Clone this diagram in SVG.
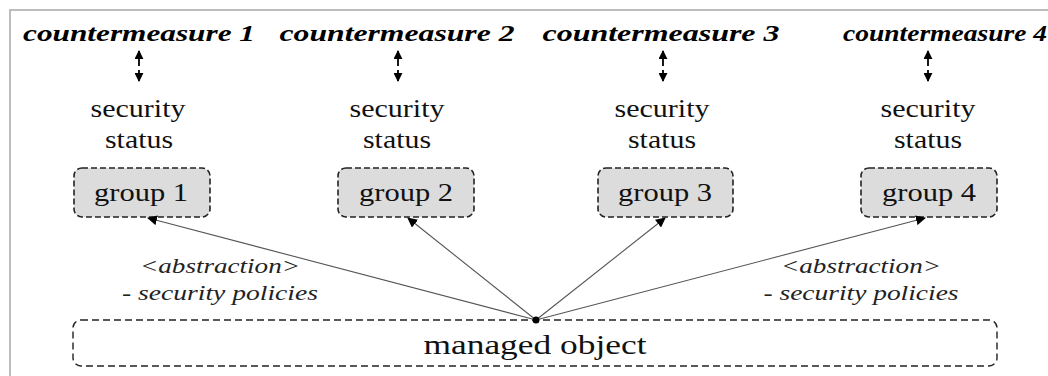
<svg xmlns="http://www.w3.org/2000/svg" width="1048" height="376" viewBox="0 0 1048 376">
<style>
.cm{font-family:"Liberation Serif",serif;font-weight:bold;font-style:italic;font-size:23px;fill:#000;text-anchor:middle}
.st{font-family:"Liberation Serif",serif;font-size:25px;fill:#111;text-anchor:middle}
.gt{font-family:"Liberation Serif",serif;font-size:25px;fill:#111;text-anchor:middle}
.lb{font-family:"Liberation Serif",serif;font-style:italic;font-size:21px;fill:#222;text-anchor:middle}
.box{fill:#dcdcdc;stroke:#222;stroke-width:1.6;stroke-dasharray:6 3}
.mo{fill:#fff;stroke:#222;stroke-width:1.4;stroke-dasharray:7 4}
.con{stroke:#555;stroke-width:1.1;fill:none;marker-end:url(#ah)}
.sm{stroke:#000;stroke-width:1.8;fill:none;stroke-dasharray:15 4;marker-start:url(#sa);marker-end:url(#sa)}
</style>
<defs>
<marker id="ah" viewBox="0 0 10 10" refX="9" refY="5" markerWidth="10" markerHeight="10" markerUnits="userSpaceOnUse" orient="auto"><path d="M0,0 L10,5 L0,10 z" fill="#000"/></marker>
<marker id="sa" viewBox="0 0 10 10" refX="9" refY="5" markerWidth="9" markerHeight="9" markerUnits="userSpaceOnUse" orient="auto-start-reverse"><path d="M0,0 L10,5 L0,10 z" fill="#000"/></marker>
</defs>
<rect width="1048" height="376" fill="#fff"/>
<path d="M10,376 V10 H1048" fill="none" stroke="#bdbdbd" stroke-width="2"/>

<g id="countermeasure1"><text class="cm" x="139" y="41" textLength="232" lengthAdjust="spacingAndGlyphs">countermeasure 1</text></g>
<g id="countermeasure2"><text class="cm" x="397" y="41" textLength="235" lengthAdjust="spacingAndGlyphs">countermeasure 2</text></g>
<g id="countermeasure3"><text class="cm" x="661" y="41" textLength="237" lengthAdjust="spacingAndGlyphs">countermeasure 3</text></g>
<g id="countermeasure4"><text class="cm" x="945" y="41" textLength="204" lengthAdjust="spacingAndGlyphs">countermeasure 4</text></g>

<g id="status1"><text class="st" x="138" y="117" textLength="95" lengthAdjust="spacingAndGlyphs">security</text><text class="st" x="139" y="148" textLength="68" lengthAdjust="spacingAndGlyphs">status</text></g>
<g id="status2"><text class="st" x="397" y="117" textLength="95" lengthAdjust="spacingAndGlyphs">security</text><text class="st" x="397" y="148" textLength="68" lengthAdjust="spacingAndGlyphs">status</text></g>
<g id="status3"><text class="st" x="662" y="117" textLength="95" lengthAdjust="spacingAndGlyphs">security</text><text class="st" x="662" y="148" textLength="68" lengthAdjust="spacingAndGlyphs">status</text></g>
<g id="status4"><text class="st" x="928" y="117" textLength="95" lengthAdjust="spacingAndGlyphs">security</text><text class="st" x="928" y="148" textLength="68" lengthAdjust="spacingAndGlyphs">status</text></g>

<g id="group1"><rect class="box" x="74" y="168" width="136" height="49" rx="8"/><text class="gt" x="141" y="201" textLength="94" lengthAdjust="spacingAndGlyphs">group 1</text></g>
<g id="group2"><rect class="box" x="338" y="168" width="136" height="49" rx="8"/><text class="gt" x="406" y="201" textLength="94" lengthAdjust="spacingAndGlyphs">group 2</text></g>
<g id="group3"><rect class="box" x="598" y="168" width="135" height="49" rx="8"/><text class="gt" x="665" y="201" textLength="94" lengthAdjust="spacingAndGlyphs">group 3</text></g>
<g id="group4"><rect class="box" x="861" y="168" width="136" height="49" rx="8"/><text class="gt" x="929" y="201" textLength="94" lengthAdjust="spacingAndGlyphs">group 4</text></g>

<g id="managed-object"><rect class="mo" x="73" y="320" width="924" height="46" rx="8"/><text class="gt" x="535" y="354" style="font-size:28px" textLength="223" lengthAdjust="spacingAndGlyphs">managed object</text></g>

<g id="labels">
<text class="lb" x="220" y="273" textLength="160" lengthAdjust="spacingAndGlyphs">&lt;abstraction&gt;</text>
<text class="lb" x="220" y="300" textLength="196" lengthAdjust="spacingAndGlyphs">- security policies</text>
<text class="lb" x="861" y="273" textLength="160" lengthAdjust="spacingAndGlyphs">&lt;abstraction&gt;</text>
<text class="lb" x="861" y="300" textLength="195" lengthAdjust="spacingAndGlyphs">- security policies</text>
</g>

<g id="connectors">
<line class="sm" x1="139" y1="51" x2="139" y2="81"/>
<line class="sm" x1="398" y1="51" x2="398" y2="81"/>
<line class="sm" x1="663" y1="51" x2="663" y2="81"/>
<line class="sm" x1="928" y1="51" x2="928" y2="81"/>
<line class="con" x1="536" y1="320" x2="148" y2="218"/>
<line class="con" x1="536" y1="320" x2="408" y2="218"/>
<line class="con" x1="536" y1="320" x2="665" y2="218"/>
<line class="con" x1="536" y1="320" x2="925" y2="218"/>
<circle cx="536" cy="320" r="3.5" fill="#000"/>
</g>
</svg>
